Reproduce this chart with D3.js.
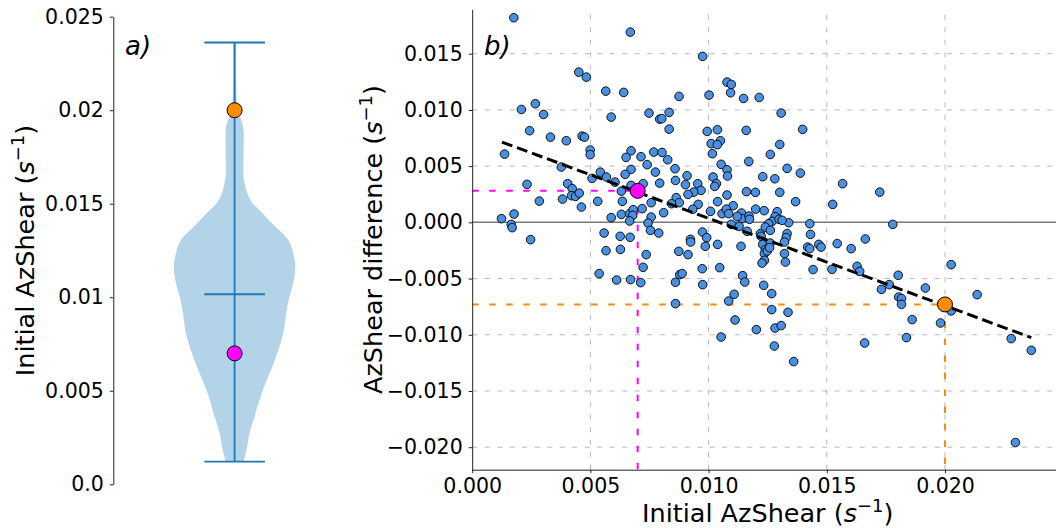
<!DOCTYPE html>
<html>
<head>
<meta charset="utf-8">
<script src="https://cdn.jsdelivr.net/npm/d3@7"></script>
<style>
  html, body { margin: 0; padding: 0; background: #fff; }
  svg { display: block; font-family: "DejaVu Sans", sans-serif; }
</style>
</head>
<body>
<svg id="chart" width="1056" height="528"></svg>
<script>
// ---------------- DATA ----------------
// Panel a) violin: density profile (relative width) along Initial AzShear
const violinValues = [0.02362, 0.02144, 0.02002, 0.01912, 0.01788, 0.01627, 0.01520, 0.01449, 0.01378, 0.01306,
  0.01235, 0.01164, 0.01075, 0.01021, 0.00950, 0.00879, 0.00807, 0.00718, 0.00629, 0.00540,
  0.00451, 0.00361, 0.00273, 0.00183, 0.00121];
const violinDensity = [0.025, 0.025, 0.05, 0.14, 0.148, 0.156, 0.26, 0.46, 0.67, 0.885,
  0.967, 1.0, 0.967, 0.918, 0.869, 0.836, 0.803, 0.721, 0.623, 0.508,
  0.41, 0.328, 0.246, 0.197, 0.148];
const violinMin = 0.00121;
const violinMax = 0.02362;
const violinMean = 0.01016;
const leftTickValues = [0.0, 0.005, 0.01, 0.015, 0.02, 0.025];
const leftTickLabels = ["0.0", "0.005", "0.01", "0.015", "0.02", "0.025"];

// Highlighted cases
const highlightX = [0.007, 0.020];
const highlightY = [0.0028, -0.0073];
const highlightColors = ["#ff00ff", "#ff8c00"];

// Panel b) scatter: initial AzShear vs AzShear difference
const scatterX = [
0.00176,0.00669,0.00451,0.00483,0.00565,0.00641,0.00208,0.00267,0.00302,0.00588,
0.00748,0.00793,0.00243,0.00331,0.00398,0.00465,0.00475,0.00499,0.00499,0.00137,
0.00672,0.00651,0.00714,0.00768,0.00377,0.00672,0.00740,0.00775,0.00647,0.00542,
0.00507,0.00568,0.00604,0.00232,0.00404,0.00423,0.00420,0.00437,0.00453,0.00382,
0.00284,0.00531,0.00635,0.00631,0.00672,0.00757,0.00723,0.00793,0.00462,0.00177,
0.00124,0.00165,0.00169,0.00247,0.00588,0.00631,0.00666,0.00681,0.00679,0.00666,
0.00719,0.00757,0.00744,0.00754,0.00558,0.00626,0.00668,0.00789,0.00566,0.00627,
0.00736,0.00723,0.00537,0.00611,0.00670,0.00713,0.00975,0.01078,0.01096,0.01093,
0.00875,0.01002,0.01148,0.01214,0.00833,0.00802,0.00833,0.01307,0.00994,0.01037,
0.01159,0.01398,0.01011,0.01050,0.01037,0.01016,0.01301,0.01261,0.00803,0.00827,
0.00858,0.01053,0.01078,0.01080,0.01170,0.00909,0.01019,0.01033,0.01026,0.01229,
0.01280,0.01332,0.01388,0.00860,0.00902,0.00954,0.00968,0.00937,0.00913,0.01078,
0.01160,0.01198,0.01301,0.00863,0.00876,0.00843,0.00956,0.00933,0.01038,0.01104,
0.01008,0.01057,0.01075,0.01085,0.01139,0.01142,0.01171,0.01173,0.01199,0.01235,
0.01290,0.01281,0.01269,0.01254,0.01298,0.01368,0.01525,0.01567,0.00810,0.01096,
0.01129,0.01163,0.00974,0.00992,0.00923,0.01219,0.01240,0.01261,0.01332,0.01328,
0.01428,0.01431,0.01339,0.01724,0.01779,0.01663,0.00874,0.00913,0.00924,0.00986,
0.01038,0.00973,0.01047,0.00878,0.00888,0.00860,0.00975,0.00860,0.01144,0.01153,
0.01108,0.01085,0.01112,0.01053,0.01233,0.01267,0.01267,0.01336,0.01202,0.01281,
0.01307,0.01278,0.01360,0.01137,0.01222,0.01229,0.01261,0.01240,0.01236,0.01236,
0.01226,0.01248,0.01258,0.01321,0.01325,0.01419,0.01428,0.01466,0.01476,0.01442,
0.01522,0.01544,0.01603,0.01628,0.01639,0.01802,0.01764,0.01731,0.01917,0.01804,
0.01816,0.01816,0.01861,0.01837,0.01660,0.01981,0.02026,0.02026,0.02136,0.02280,
0.02365,0.02298,0.01311,0.01321,0.01121];
const scatterY = [
0.01820,0.01692,0.01336,0.01292,0.01167,0.01156,0.01004,0.01055,0.00960,0.00936,
0.00972,0.00918,0.00815,0.00758,0.00726,0.00767,0.00758,0.00643,0.00602,0.00607,
0.00637,0.00578,0.00584,0.00625,0.00492,0.00471,0.00513,0.00447,0.00427,0.00447,
0.00391,0.00403,0.00358,0.00338,0.00344,0.00300,0.00237,0.00231,0.00260,0.00207,
0.00189,0.00187,0.00187,0.00278,0.00329,0.00175,0.00344,0.00349,0.00136,0.00074,
0.00033,-0.00018,-0.00047,-0.00154,0.00042,0.00071,0.00077,0.00113,0.00062,0.00012,
0.00122,0.00047,-0.00006,-0.00071,-0.00095,-0.00124,-0.00133,-0.00095,-0.00252,-0.00240,
-0.00287,-0.00400,-0.00456,-0.00513,-0.00509,-0.00536,0.01476,0.01247,0.01227,0.01153,
0.01120,0.01132,0.01102,0.01111,0.00978,0.00922,0.00829,0.00972,0.00809,0.00824,
0.00818,0.00827,0.00700,0.00726,0.00691,0.00611,0.00693,0.00604,0.00622,0.00557,
0.00477,0.00516,0.00468,0.00412,0.00542,0.00415,0.00403,0.00344,0.00320,0.00406,
0.00388,0.00480,0.00438,0.00373,0.00335,0.00344,0.00284,0.00269,0.00249,0.00243,
0.00273,0.00267,0.00267,0.00220,0.00175,0.00166,0.00160,0.00116,0.00184,0.00148,
0.00098,0.00077,0.00118,0.00077,0.00083,0.00033,0.00056,0.00027,0.00118,0.00104,
0.00095,0.00051,0.00009,-0.00012,0.00027,0.00184,0.00160,0.00344,0.00086,-0.00018,
-0.00036,-0.00080,-0.00086,-0.00136,-0.00151,-0.00100,-0.00042,-0.00071,-0.00100,-0.00136,
-0.00012,-0.00107,-0.00003,0.00269,-0.00018,-0.00148,-0.00258,-0.00287,-0.00175,-0.00213,
-0.00196,-0.00412,-0.00403,-0.00465,-0.00456,-0.00533,-0.00554,-0.00723,-0.00474,-0.00531,
-0.00640,-0.00700,-0.00868,-0.01020,-0.00560,-0.00634,-0.00776,-0.00800,-0.00954,-0.00940,
-0.00918,-0.01100,-0.01238,-0.00213,-0.00124,-0.00196,-0.00184,-0.00243,-0.00278,-0.00338,
-0.00362,-0.00255,-0.00225,-0.00278,-0.00353,-0.00220,-0.00234,-0.00196,-0.00220,-0.00420,
-0.00418,-0.00189,-0.00234,-0.00391,-0.00436,-0.00471,-0.00554,-0.00596,-0.00584,-0.00664,
-0.00678,-0.00729,-0.00865,-0.01025,-0.01073,-0.00895,-0.00376,-0.00788,-0.00643,-0.01034,
-0.01138,-0.01958,0.00018,-0.00175,0.00053];

// Linear fit endpoints
const trendX = [0.00126, 0.02365];
const trendY = [0.00714, -0.01025];

const rightXTicks = [0.000, 0.005, 0.010, 0.015, 0.020];
const rightYTicks = [-0.020, -0.015, -0.010, -0.005, 0.000, 0.005, 0.010, 0.015];

// ---------------- DRAW ----------------
const svg = d3.select("#chart");
const FONT_TICK = 20.5, FONT_LABEL = 25.5;

function addLabel(sel, x, y, rotate, anchor) {
  const t = sel.append("text")
    .attr("transform", `translate(${x},${y})` + (rotate ? " rotate(-90)" : ""))
    .attr("text-anchor", "middle")
    .attr("font-size", FONT_LABEL)
    .attr("fill", "#000");
  return t;
}
function fillAzLabel(t, prefix) {
  t.append("tspan").text(prefix + "(");
  t.append("tspan").attr("font-style", "italic").text("s");
  t.append("tspan").attr("dy", -10).attr("font-size", 18).text("\u22121");
  t.append("tspan").attr("dy", 10).text(")");
}

// ===== Panel a =====
const yL = d3.scaleLinear().domain([0, 0.025]).range([484.3, 16.7]);
const xL = d3.scaleLinear().domain([0.5, 1.5]).range([113.3, 355.9]);
const wScale = d3.scaleLinear().domain([0, 1]).range([0, 0.25]);
const gA = svg.append("g");

const vData = violinValues.map((v, i) => ({v, w: violinDensity[i]}));
const area = d3.area()
  .y(d => yL(d.v))
  .x0(d => xL(1 - wScale(d.w)))
  .x1(d => xL(1 + wScale(d.w)))
  .curve(d3.curveCatmullRom);
gA.append("path").datum(vData).attr("d", area).attr("fill", "#b3d3e8").attr("stroke", "none");

const vLine = "#1f77b4";
gA.append("line").attr("x1", xL(1)).attr("x2", xL(1)).attr("y1", yL(violinMin)).attr("y2", yL(violinMax))
  .attr("stroke", vLine).attr("stroke-width", 1.8);
[violinMin, violinMax, violinMean].forEach(v => {
  gA.append("line").attr("x1", xL(0.875)).attr("x2", xL(1.125)).attr("y1", yL(v)).attr("y2", yL(v))
    .attr("stroke", vLine).attr("stroke-width", 1.8);
});
highlightX.forEach((v, i) => {
  gA.append("circle").attr("cx", xL(1)).attr("cy", yL(v)).attr("r", 7.5)
    .attr("fill", highlightColors[i]).attr("stroke", "#000").attr("stroke-width", 1);
});

const axA = gA.append("g").attr("transform", `translate(${xL.range()[0]},0)`)
  .call(d3.axisLeft(yL).tickValues(leftTickValues).tickFormat((d, i) => leftTickLabels[i])
    .tickSize(3.5).tickSizeOuter(0).tickPadding(6));
axA.select(".domain").attr("stroke", "#222").attr("stroke-width", 1);
axA.selectAll(".tick line").attr("stroke", "#222");
axA.selectAll(".tick text").attr("font-size", FONT_TICK).attr("font-family", "DejaVu Sans").attr("fill", "#000");

gA.append("text").attr("x", 125).attr("y", 55).attr("font-size", 26).attr("font-style", "italic").text("a)");
fillAzLabel(addLabel(gA, 34, 250.5, true), "Initial AzShear ");

// ===== Panel b =====
const xR = d3.scaleLinear().domain([0, 0.025]).range([472.2, 1063.2]);
const yR = d3.scaleLinear().domain([-0.0220, 0.01895]).range([469.7, 9.3]);
const gB = svg.append("g");

// grid
const gridDash = "5,7.5";
rightXTicks.filter(d => d > 0).forEach(d => {
  gB.append("line").attr("x1", xR(d)).attr("x2", xR(d)).attr("y1", yR.range()[0]).attr("y2", yR.range()[1])
    .attr("stroke", "#b8b8b8").attr("stroke-width", 1).attr("stroke-dasharray", gridDash);
});
rightYTicks.forEach(d => {
  gB.append("line").attr("x1", xR.range()[0]).attr("x2", xR.range()[1]).attr("y1", yR(d)).attr("y2", yR(d))
    .attr("stroke", "#b8b8b8").attr("stroke-width", 1).attr("stroke-dasharray", gridDash);
});
// zero line
gB.append("line").attr("x1", xR.range()[0]).attr("x2", xR.range()[1]).attr("y1", yR(0)).attr("y2", yR(0))
  .attr("stroke", "#7a7a7a").attr("stroke-width", 1.5);

// highlight guide lines
highlightX.forEach((v, i) => {
  const c = highlightColors[i];
  gB.append("line").attr("x1", xR(0)).attr("x2", xR(v)).attr("y1", yR(highlightY[i])).attr("y2", yR(highlightY[i]))
    .attr("stroke", c).attr("stroke-width", 2).attr("stroke-dasharray", "6.5,10.5");
  gB.append("line").attr("x1", xR(v)).attr("x2", xR(v)).attr("y1", yR(highlightY[i])).attr("y2", yR.range()[0])
    .attr("stroke", c).attr("stroke-width", 2).attr("stroke-dasharray", "6.5,10.5");
});

// scatter
gB.append("g").selectAll("circle").data(scatterX.map((x, i) => [x, scatterY[i]])).join("circle")
  .attr("cx", d => xR(d[0])).attr("cy", d => yR(d[1])).attr("r", 4.3)
  .attr("fill", "#4a90e2").attr("stroke", "#000").attr("stroke-width", 0.9);

// trend line
gB.append("line").attr("x1", xR(trendX[0])).attr("x2", xR(trendX[1]))
  .attr("y1", yR(trendY[0])).attr("y2", yR(trendY[1]))
  .attr("stroke", "#000").attr("stroke-width", 3).attr("stroke-dasharray", "11,5");

// highlighted cases
highlightX.forEach((v, i) => {
  gB.append("circle").attr("cx", xR(v)).attr("cy", yR(highlightY[i])).attr("r", 7.5)
    .attr("fill", highlightColors[i]).attr("stroke", "#000").attr("stroke-width", 1);
});

// axes
const fmt = d3.format(".3f");
const axBy = gB.append("g").attr("transform", `translate(${xR.range()[0]},0)`)
  .call(d3.axisLeft(yR).tickValues(rightYTicks).tickFormat(fmt).tickSize(3.5).tickSizeOuter(0).tickPadding(6));
const axBx = gB.append("g").attr("transform", `translate(0,${yR.range()[0]})`)
  .call(d3.axisBottom(xR).tickValues(rightXTicks).tickFormat(fmt).tickSize(3.5).tickSizeOuter(0).tickPadding(5));
[axBy, axBx].forEach(ax => {
  ax.select(".domain").attr("stroke", "#222").attr("stroke-width", 1);
  ax.selectAll(".tick line").attr("stroke", "#222");
  ax.selectAll(".tick text").attr("font-size", FONT_TICK).attr("font-family", "DejaVu Sans").attr("fill", "#000");
});

gB.append("text").attr("x", 484).attr("y", 55).attr("font-size", 26).attr("font-style", "italic").text("b)");
fillAzLabel(addLabel(gB, 382, (yR.range()[0] + yR.range()[1]) / 2, true), "AzShear difference ");
fillAzLabel(addLabel(gB, (xR.range()[0] + xR.range()[1]) / 2, 522, false), "Initial AzShear ");
</script>
</body>
</html>
